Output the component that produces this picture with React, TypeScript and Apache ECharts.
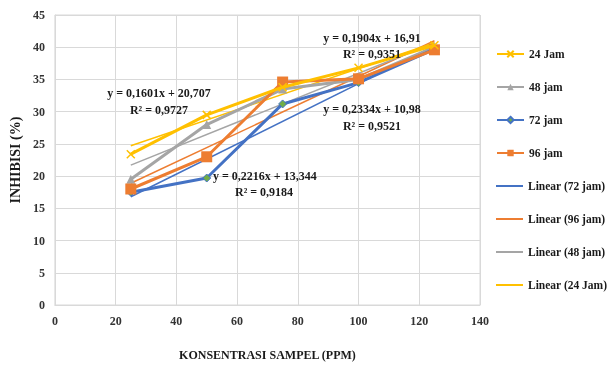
import React, { useEffect, useRef } from "react";
import * as echarts from "echarts";

const concentrations = [25, 50, 75, 100, 125];
const jam24 = [23.4, 29.5, 33.8, 36.8, 40.3];
const jam48 = [19.5, 28.0, 33.5, 35.0, 40.0];
const jam72 = [17.5, 19.7, 31.2, 34.5, 39.7];
const jam96 = [18.0, 23.0, 34.6, 35.1, 39.6];

const trendX = [25, 125];
const trend72 = [16.8, 40.2];
const trend96 = [18.9, 41.0];
const trend48 = [21.7, 40.7];
const trend24 = [24.7, 40.7];

const dataNames = ["24 Jam", "48 jam", "72 jam", "96 jam"];
const trendNames = ["Linear (72 jam)", "Linear (96 jam)", "Linear (48 jam)", "Linear (24 Jam)"];

const yTicks = { min: 0, max: 45, interval: 5 };
const xTicks = { min: 0, max: 140, interval: 20 };

const FONT = "'Liberation Serif', 'Times New Roman', serif";
const C_YELLOW = "#FFC000";
const C_GRAY = "#A5A5A5";
const C_BLUE = "#4472C4";
const C_ORANGE = "#ED7D31";

const pair = (xs: number[], ys: number[]) => xs.map((x, i) => [x, ys[i]]);

export default function App() {
  const ref = useRef<HTMLDivElement>(null);
  useEffect(() => {
    if (!ref.current) return;
    const chart = echarts.init(ref.current, null, { renderer: "svg" });
    const textStyle = { fontFamily: FONT, fontWeight: "bold" as const, fontSize: 12, fill: "#1a1a1a" };
    const ann = (x: number, y: number, text: string, align = "center") => ({
      type: "text",
      x,
      y,
      style: { ...textStyle, text, textAlign: align, textVerticalAlign: "middle" },
      z: 100,
    });
    const legendText = { fontFamily: FONT, fontWeight: "bold", fontSize: 11.5, color: "#1a1a1a", lineHeight: 14 };
    chart.setOption({
      animation: false,
      textStyle: { fontFamily: FONT },
      grid: {
        left: 54,
        top: 15,
        width: 426,
        height: 290,
        show: true,
        borderColor: "#D9D9D9",
        borderWidth: 1,
      },
      xAxis: {
        type: "value",
        ...xTicks,
        name: "KONSENTRASI SAMPEL (PPM)",
        nameLocation: "middle",
        nameGap: 44,
        nameTextStyle: { fontFamily: FONT, fontWeight: "bold", fontSize: 12, color: "#1a1a1a" },
        axisLine: { show: true, lineStyle: { color: "#D9D9D9" } },
        axisTick: { show: false },
        splitLine: { show: true, lineStyle: { color: "#D9D9D9", width: 1 } },
        axisLabel: { fontFamily: FONT, fontWeight: "bold", fontSize: 12, color: "#333", margin: 10 },
      },
      yAxis: {
        type: "value",
        ...yTicks,
        name: "INHIBISI (%)",
        nameLocation: "middle",
        nameGap: 29,
        nameTextStyle: { fontFamily: FONT, fontWeight: "bold", fontSize: 14, color: "#1a1a1a" },
        axisLine: { show: true, lineStyle: { color: "#D9D9D9" } },
        axisTick: { show: false },
        splitLine: { show: true, lineStyle: { color: "#D9D9D9", width: 1 } },
        axisLabel: { fontFamily: FONT, fontWeight: "bold", fontSize: 12, color: "#333", margin: 10 },
      },
      legend: [
        {
          orient: "vertical",
          left: 496,
          top: 47,
          padding: 0,
          itemWidth: 27,
          itemHeight: 8,
          itemGap: 19,
          textStyle: legendText,
          data: dataNames,
        },
        {
          orient: "vertical",
          left: 496,
          top: 179,
          padding: 0,
          itemWidth: 27,
          itemHeight: 2,
          itemGap: 19,
          icon: "rect",
          textStyle: legendText,
          data: trendNames,
        },
      ],
      series: [
        {
          name: trendNames[0],
          type: "line",
          data: pair(trendX, trend72),
          symbol: "none",
          lineStyle: { color: C_BLUE, width: 1.5 },
          itemStyle: { color: C_BLUE },
          z: 1,
        },
        {
          name: trendNames[1],
          type: "line",
          data: pair(trendX, trend96),
          symbol: "none",
          lineStyle: { color: C_ORANGE, width: 1.5 },
          itemStyle: { color: C_ORANGE },
          z: 1,
        },
        {
          name: trendNames[2],
          type: "line",
          data: pair(trendX, trend48),
          symbol: "none",
          lineStyle: { color: C_GRAY, width: 1.5 },
          itemStyle: { color: C_GRAY },
          z: 1,
        },
        {
          name: trendNames[3],
          type: "line",
          data: pair(trendX, trend24),
          symbol: "none",
          lineStyle: { color: C_YELLOW, width: 1.5 },
          itemStyle: { color: C_YELLOW },
          z: 1,
        },
        {
          name: dataNames[1],
          type: "line",
          data: pair(concentrations, jam48),
          symbol: "triangle",
          symbolSize: 9,
          lineStyle: { color: C_GRAY, width: 3 },
          itemStyle: { color: C_GRAY },
          z: 3,
        },
        {
          name: dataNames[2],
          type: "line",
          data: pair(concentrations, jam72),
          symbol: "diamond",
          symbolSize: 8,
          lineStyle: { color: C_BLUE, width: 3 },
          itemStyle: { color: "#70AD47", borderColor: C_BLUE, borderWidth: 1 },
          z: 3,
        },
        {
          name: dataNames[3],
          type: "line",
          data: pair(concentrations, jam96),
          symbol: "rect",
          symbolSize: 11,
          lineStyle: { color: C_ORANGE, width: 3 },
          itemStyle: { color: C_ORANGE },
          z: 3,
        },
        {
          name: dataNames[0],
          type: "line",
          data: pair(concentrations, jam24),
          symbol: "path://M0,0L10,10M10,0L0,10",
          symbolSize: 8,
          lineStyle: { color: C_YELLOW, width: 3 },
          itemStyle: { color: C_YELLOW, borderColor: C_YELLOW, borderWidth: 1.5 },
          z: 4,
        },
      ],
      graphic: [
        ann(159, 93, "y = 0,1601x + 20,707"),
        ann(159, 110, "R² = 0,9727"),
        ann(372, 38, "y = 0,1904x + 16,91"),
        ann(372, 54, "R² = 0,9351"),
        ann(372, 109, "y = 0,2334x + 10,98"),
        ann(372, 126, "R² = 0,9521"),
        ann(213, 176, "y = 0,2216x + 13,344", "left"),
        ann(235, 192, "R² = 0,9184", "left"),
      ],
    });
    return () => chart.dispose();
  }, []);
  return (
    <div
      ref={ref}
      style={{ position: "fixed", left: 0, top: 0, width: 610, height: 367, overflow: "visible" }}
    />
  );
}
